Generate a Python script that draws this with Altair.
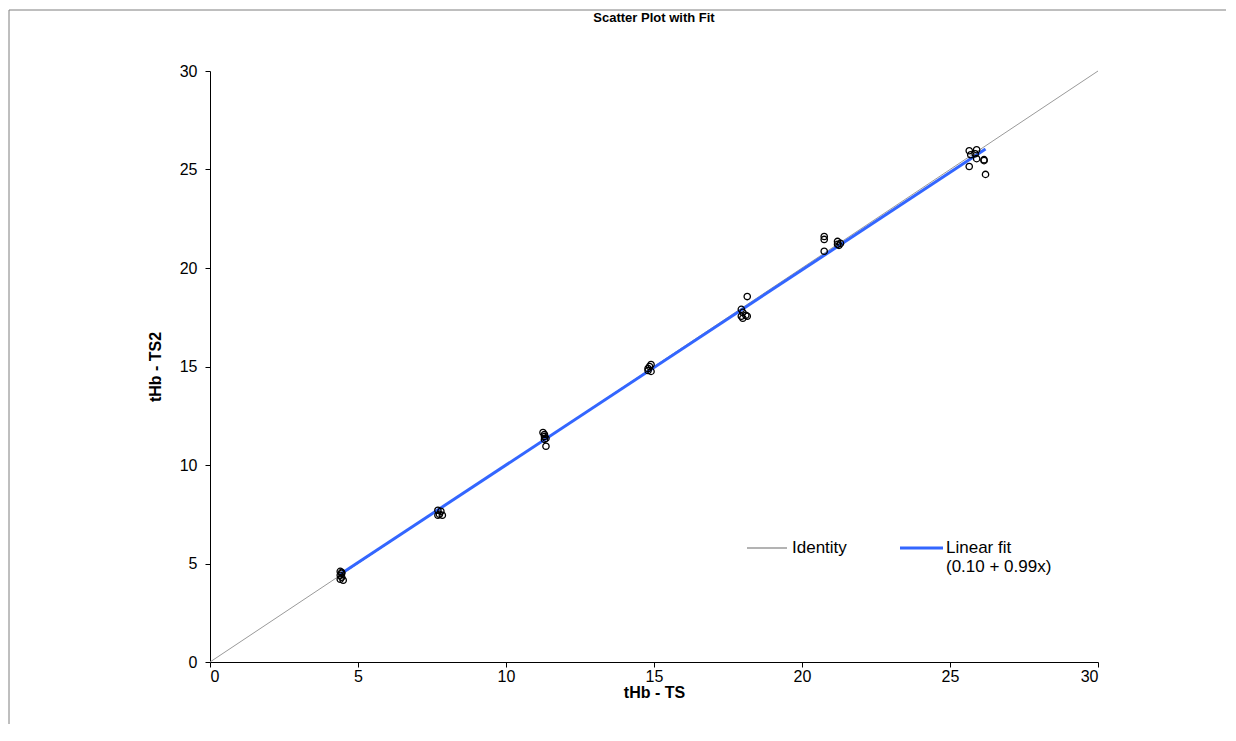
import altair as alt
import pandas as pd

# Scatter data (tHb - TS vs tHb - TS2)
ts = [4.40, 4.45, 4.40, 4.45, 4.40, 4.50, 4.45,
      7.70, 7.80, 7.75, 7.85, 7.70,
      11.25, 11.30, 11.30, 11.35, 11.30, 11.35,
      14.80, 14.85, 14.90, 14.80, 14.90,
      17.95, 18.00, 17.95, 18.00, 18.15, 18.10, 18.15,
      20.75, 20.75, 20.75, 21.20, 21.25, 21.30, 21.20,
      25.65, 25.70, 25.65, 25.90, 25.85, 25.90, 26.15, 26.15, 26.20]
ts2 = [4.60, 4.50, 4.40, 4.30, 4.20, 4.15, 4.55,
       7.70, 7.65, 7.50, 7.45, 7.45,
       11.65, 11.55, 11.45, 11.35, 11.30, 10.95,
       14.80, 15.00, 15.10, 14.90, 14.75,
       17.90, 17.75, 17.55, 17.45, 18.55, 17.60, 17.55,
       21.60, 21.45, 20.85, 21.35, 21.15, 21.25, 21.20,
       25.95, 25.75, 25.15, 26.00, 25.80, 25.55, 25.50, 25.45, 24.75]

identity_x = [0, 30]
fit_intercept = 0.10
fit_slope = 0.99
series_names = ["Identity", "Linear fit"]
fit_note = "(0.10 + 0.99x)"
series_colors = ["#9a9a9a", "#3366ff"]
tick_values = [0, 5, 10, 15, 20, 25, 30]
chart_title = "Scatter Plot with Fit"

FONT = "Liberation Sans"

pts = pd.DataFrame({"x": ts, "y": ts2})
ident = pd.DataFrame({"x": identity_x, "y": identity_x})
fx = [min(ts), max(ts)]
fit = pd.DataFrame({"x": fx, "y": [fit_intercept + fit_slope * v for v in fx]})

xs = alt.Scale(domain=[0, 30], nice=False, zero=False)
ys = alt.Scale(domain=[0, 30], nice=False, zero=False)

xax = alt.Axis(title="tHb - TS", values=tick_values, grid=False,
               domainColor="black", tickColor="black", tickSize=5, labelColor="black",
               labelFontSize=16, labelFont=FONT, titleFont=FONT, titleFontSize=16,
               titleFontWeight="bold", titleColor="black", labelPadding=1, titlePadding=0)
yax = alt.Axis(title="tHb - TS2", values=tick_values, grid=False,
               domainColor="black", tickColor="black", tickSize=5, labelColor="black",
               labelFontSize=16, labelFont=FONT, titleFont=FONT, titleFontSize=16,
               titleFontWeight="bold", titleColor="black", labelPadding=8, titlePadding=16)

one = pd.DataFrame({"a": [0]})

# chart-area frame (top and left edges visible in the reference)
frame_top = alt.Chart(one).mark_rule(color="#7f7f7f", strokeWidth=1).encode(
    x=alt.value(-201), x2=alt.value(1016), y=alt.value(-61))
frame_left = alt.Chart(one).mark_rule(color="#7f7f7f", strokeWidth=1).encode(
    x=alt.value(-201), y=alt.value(-61), y2=alt.value(653))

title = alt.Chart(one).mark_text(
    text=chart_title, font=FONT, fontSize=13, fontWeight="bold", color="black",
    align="center", baseline="middle"
).encode(x=alt.value(444), y=alt.value(-53))

ident_line = alt.Chart(ident).mark_line(strokeWidth=1, color=series_colors[0]).encode(
    x=alt.X("x:Q", scale=xs, axis=xax), y=alt.Y("y:Q", scale=ys, axis=yax))
fit_line = alt.Chart(fit).mark_line(strokeWidth=3, color=series_colors[1]).encode(
    x=alt.X("x:Q", scale=xs), y=alt.Y("y:Q", scale=ys))
points = alt.Chart(pts).mark_point(shape="circle", filled=False, color="black",
                                   strokeWidth=1.3, size=40, opacity=1).encode(
    x=alt.X("x:Q", scale=xs), y=alt.Y("y:Q", scale=ys))

# legend (inside plot area, lower right)
leg_id_sym = alt.Chart(one).mark_rule(color=series_colors[0], strokeWidth=1.5).encode(
    x=alt.value(537), x2=alt.value(577), y=alt.value(477))
leg_id_txt = alt.Chart(one).mark_text(text=series_names[0], font=FONT, fontSize=17,
                                      color="black", align="left", baseline="middle").encode(
    x=alt.value(582), y=alt.value(477))
leg_fit_sym = alt.Chart(one).mark_rule(color=series_colors[1], strokeWidth=3).encode(
    x=alt.value(690), x2=alt.value(733), y=alt.value(477))
leg_fit_txt = alt.Chart(one).mark_text(text=series_names[1], font=FONT, fontSize=17,
                                       color="black", align="left", baseline="middle").encode(
    x=alt.value(736), y=alt.value(477))
leg_fit_txt2 = alt.Chart(one).mark_text(text=fit_note, font=FONT, fontSize=17,
                                        color="black", align="left", baseline="middle").encode(
    x=alt.value(736), y=alt.value(496))

chart = alt.layer(frame_top, frame_left, title, ident_line, fit_line, points,
                  leg_id_sym, leg_id_txt, leg_fit_sym, leg_fit_txt, leg_fit_txt2).properties(
    width=888, height=591,
    autosize=alt.AutoSizeParams(type="none"),
    padding={"left": 202, "top": 63, "right": 128, "bottom": 62},
    background="white",
).configure_view(stroke=None)

chart.save("out.html", embed_options={"renderer": "svg", "actions": False})
